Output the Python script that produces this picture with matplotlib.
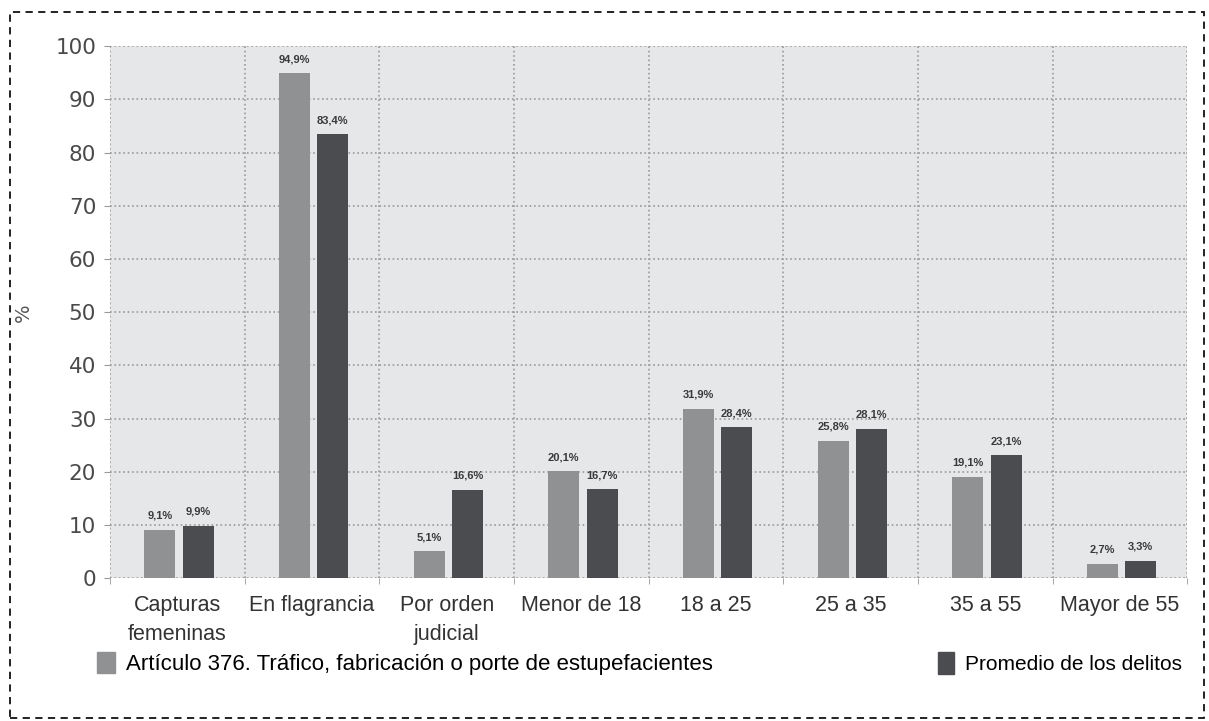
import numpy as np
import matplotlib
matplotlib.use("Agg")
import matplotlib.pyplot as plt
import matplotlib.patches as mpatches

categories = ["Capturas\nfemeninas", "En flagrancia", "Por orden\njudicial",
              "Menor de 18", "18 a 25", "25 a 35", "35 a 55", "Mayor de 55"]
art376 = [9.1, 94.9, 5.1, 20.1, 31.9, 25.8, 19.1, 2.7]
promedio = [9.9, 83.4, 16.6, 16.7, 28.4, 28.1, 23.1, 3.3]
yticks = [0, 10, 20, 30, 40, 50, 60, 70, 80, 90, 100]
series_names = ["Artículo 376. Tráfico, fabricación o porte de estupefacientes",
                "Promedio de los delitos"]

light = "#8f9193"
dark = "#4b4c50"
narrow = ["Liberation Sans", "DejaVu Sans"]

fig = plt.figure(figsize=(12.09, 7.21), dpi=100, facecolor="white")
ax = fig.add_axes([0.091, 0.198, 0.891, 0.738])
ax.set_facecolor("#e6e7e9")

x = np.arange(len(categories))
w = 0.23
b1 = ax.bar(x - 0.13, art376, width=w, color=light, zorder=3)
b2 = ax.bar(x + 0.155, promedio, width=w, color=dark, zorder=3)

def fmt(v):
    return f"{v:.1f}".replace(".", ",") + "%"

for rects, vals in [(b1, art376), (b2, promedio)]:
    for r, v in zip(rects, vals):
        ax.text(r.get_x() + r.get_width() / 2, v + 1.7, fmt(v),
                ha="center", va="bottom", fontsize=8, color="#3a3a3a",
                family=narrow, fontweight="bold")

ax.set_xlim(-0.5, len(categories) - 0.5)
ax.set_ylim(0, 100)
ax.set_yticks(yticks)
ax.set_yticklabels([str(t) for t in yticks], fontsize=15.5, color="#4a4a4a",
                   family="DejaVu Sans")
ax.set_xticks(x)
ax.set_xticklabels(categories, fontsize=15.5, color="#333333", family=narrow,
                   linespacing=1.5)
ax.set_xticks(np.arange(len(categories) + 1) - 0.5, minor=True)
ax.tick_params(axis="x", which="major", length=0, pad=12)
ax.tick_params(axis="x", which="minor", length=4, color="#999999")
ax.tick_params(axis="y", length=4, color="#999999", pad=6)
ax.grid(True, axis="y", which="major", linestyle=":", color="#9a9a9a", linewidth=1.2, zorder=1)
ax.grid(True, axis="x", which="minor", linestyle=":", color="#9a9a9a", linewidth=1.2, zorder=1)
for s in ax.spines.values():
    s.set_visible(False)
ax.set_ylabel("%", fontsize=14, color="#555555", labelpad=16)

h1 = mpatches.Patch(color=light)
h2 = mpatches.Patch(color=dark)
fig.legend([h1], [series_names[0]], loc="center left", bbox_to_anchor=(0.064, 0.08),
           frameon=False, prop={"family": narrow, "size": 16}, handlelength=0.8,
           handleheight=1.1, handletextpad=0.5)
fig.legend([h2], [series_names[1]], loc="center left", bbox_to_anchor=(0.76, 0.08),
           frameon=False, prop={"family": narrow, "size": 15}, handlelength=0.8,
           handleheight=1.2, handletextpad=0.5)

border = mpatches.Rectangle((0.008, 0.004), 0.988, 0.98, transform=fig.transFigure,
                            fill=False, linestyle=(0, (4, 3)), linewidth=1.3,
                            edgecolor="#111111")
fig.patches.append(border)

fig.savefig("out.png", dpi=100, facecolor="white")
